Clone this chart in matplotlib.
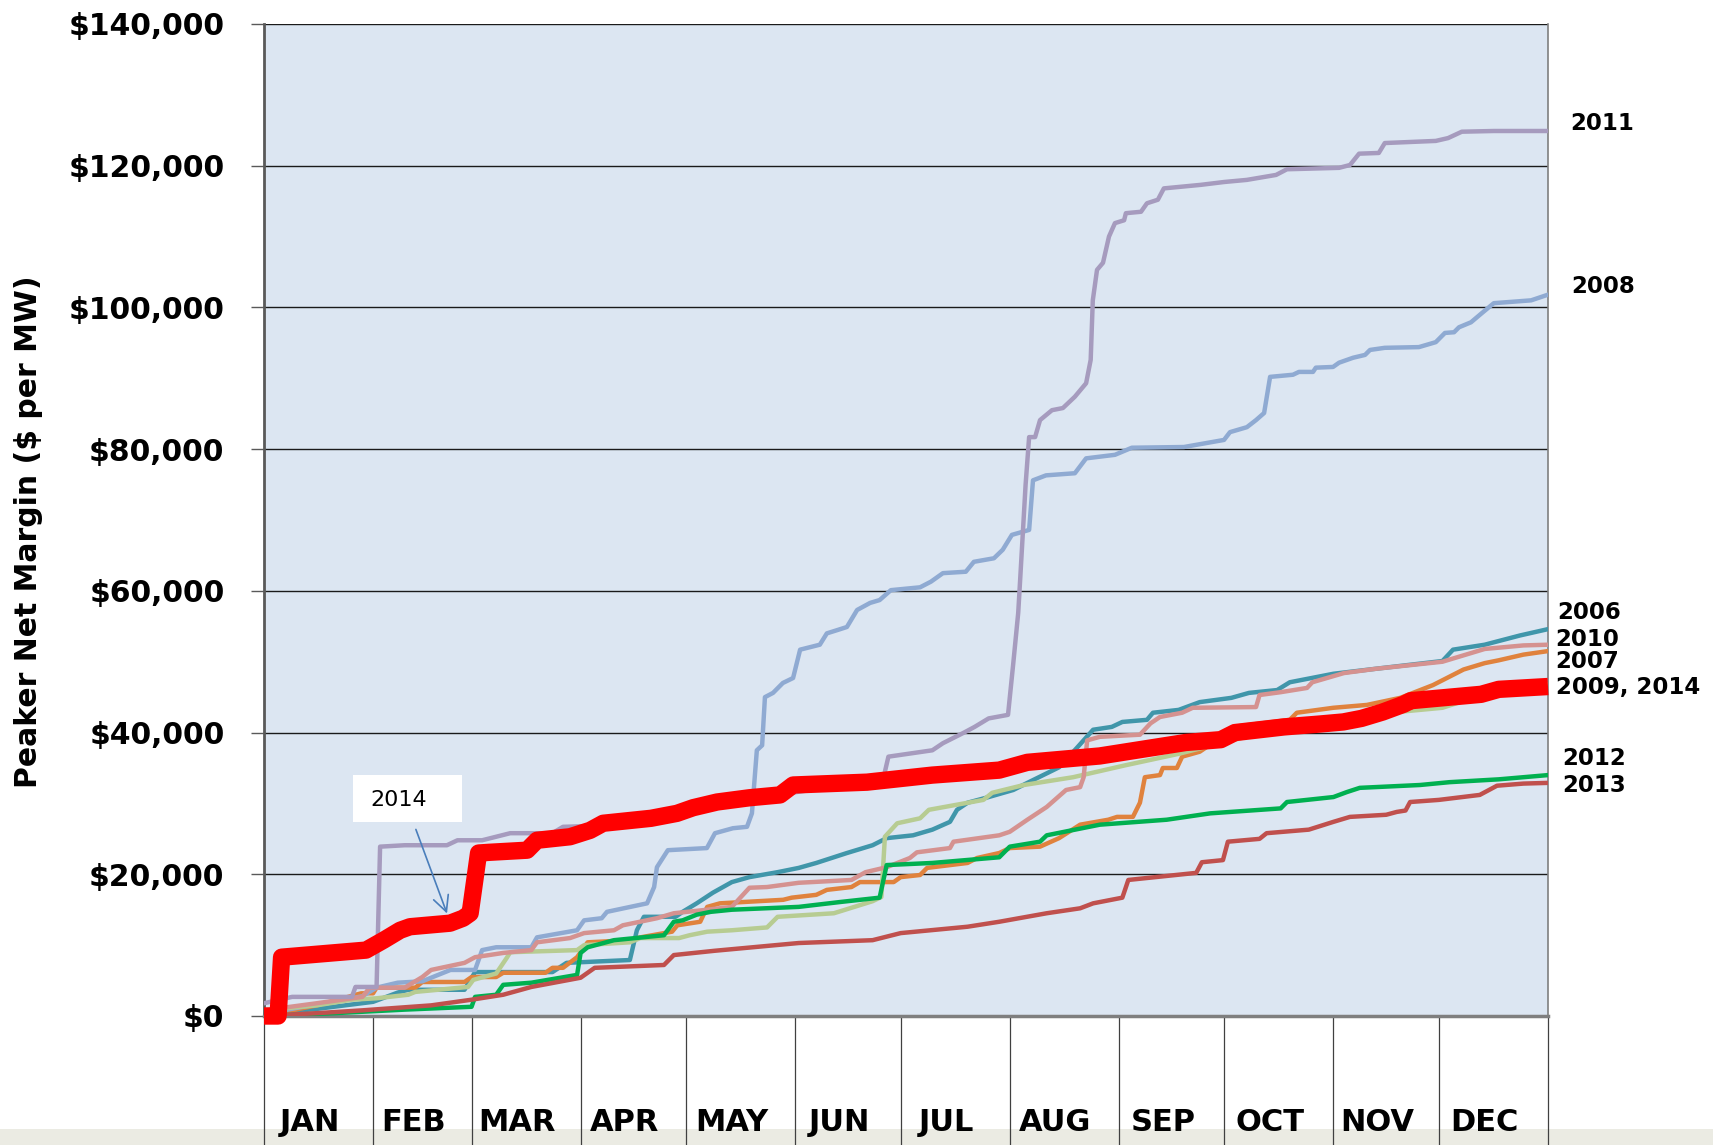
import matplotlib
matplotlib.use("Agg")
import matplotlib.pyplot as plt
from matplotlib.patches import Rectangle
from matplotlib.ticker import FuncFormatter
import matplotlib.transforms as mtransforms

# cumulative peaker net margin ($/MW) by day of year
d2006 = [0, 15, 31, 38, 41, 57, 60, 82, 86, 104, 106, 108, 117, 119, 123, 127.6, 133, 138, 146, 152,
         157, 165.7, 173, 177, 184.5, 190, 195, 197, 200, 206, 213, 217, 226, 231, 235.7, 241, 244, 251, 252.7, 260,
         266, 275, 280, 288, 291.6, 304, 316, 335, 338, 347, 357, 365]
v2006 = [300, 1000, 2000, 3300, 3700, 3700, 6200, 6200, 7500, 7900, 12100, 14000, 14000, 14700, 15900, 17400, 18900, 19600, 20300, 20900,
         21600, 23000, 24100, 25100, 25500, 26300, 27400, 29100, 30100, 30900, 31900, 32900, 35100, 37800, 40400, 40800, 41500, 41800, 42800, 43200,
         44300, 44900, 45600, 46000, 47100, 48300, 49000, 50100, 51700, 52400, 53700, 54600]

d2007 = [0, 15, 27.6, 31, 32, 43, 45, 57, 59, 66, 68, 80, 82, 85, 89, 92, 104, 107, 116, 117.5,
         124, 126, 129.6, 147.6, 150, 157, 160, 167, 169.4, 179, 181, 186.5, 188.5, 200, 202.7, 209, 212, 220.6, 226, 232,
         240, 242.5, 247, 249, 250.4, 254.7, 255.5, 259.5, 261, 266, 273.7, 275.5, 291.6, 293.6, 304, 313.5, 323, 332.3, 341, 347,
         351, 358, 365]
v2007 = [0, 1500, 3200, 3200, 4000, 4000, 4800, 4800, 5500, 5500, 6100, 6100, 6800, 6800, 8300, 10400, 10700, 11100, 11900, 12800,
         13300, 15400, 15900, 16400, 16700, 17100, 17800, 18200, 18900, 18900, 19600, 19900, 20900, 21600, 22300, 23000, 23700, 23900, 25100, 27000,
         27700, 28100, 28100, 30100, 33700, 34000, 35000, 35000, 36600, 37300, 39900, 40800, 41800, 42800, 43500, 43900, 44900, 46700, 48900, 49800,
         50200, 51000, 51500]

d2008 = [0, 10, 20, 28, 32, 38, 45, 53, 60, 62, 66, 76, 77.6, 89, 91, 96, 97.5, 108.9, 110.9, 111.7,
         114.8, 125.9, 128.2, 133.3, 137.3, 138.7, 140.1, 141.6, 142.4, 144.7, 147.5, 150.4, 152.4, 158, 160, 163.2, 165.7, 168.6, 172.3, 175,
         178.2, 186.5, 189.6, 193, 199.5, 201.8, 207.5, 210, 212.6, 217.5, 218.6, 222.3, 230.5, 233.7, 241.9, 246.7, 261.5, 272.9, 274.6, 279.4,
         282, 284.3, 286, 292.5, 294.2, 298.2, 299, 303.9, 305.6, 309.6, 313, 314.4, 318.6, 328.3, 333.1, 335.7, 338.3, 339.7, 343.1, 346.2,
         349.6, 360.2, 365]
v2008 = [300, 1200, 2000, 2800, 4000, 4700, 4900, 6500, 6500, 9300, 9700, 9700, 11100, 12100, 13500, 13800, 14700, 15900, 18200, 21000,
         23400, 23700, 25800, 26500, 26700, 28600, 37500, 38200, 45000, 45600, 47000, 47700, 51700, 52400, 54000, 54500, 54900, 57300, 58300, 58700,
         60100, 60500, 61300, 62500, 62700, 64100, 64600, 65800, 67900, 68600, 75600, 76300, 76600, 78700, 79200, 80200, 80300, 81300, 82400, 83100,
         84100, 85100, 90200, 90500, 90900, 90900, 91500, 91600, 92200, 92900, 93300, 94000, 94300, 94400, 95100, 96400, 96500, 97200, 97900, 99200,
         100600, 101000, 101800]

d2009 = [0, 15, 25, 32, 41, 43, 58, 59.5, 66, 69, 70, 89, 91, 104, 107, 118, 121, 126, 133, 143,
         146, 162, 173, 175.5, 176.5, 180, 186.5, 189, 204.5, 207, 216, 230, 245, 260, 280, 300, 320, 335, 340, 350,
         365]
v2009 = [800, 1500, 2300, 2500, 3000, 3400, 4100, 5100, 6000, 8200, 9000, 9300, 10000, 10400, 11000, 11000, 11400, 11900, 12100, 12500,
         14000, 14500, 16200, 16800, 25300, 27200, 27900, 29100, 30500, 31500, 32600, 33700, 35400, 37000, 39500, 41000, 42800, 43500, 44300, 45200,
         46800]

d2010 = [0, 15, 28, 30, 40, 45, 47.5, 57, 60, 68, 76, 77.6, 87, 91, 99.5, 102, 111.7, 116.5, 126, 133,
         138, 143, 152, 167, 171, 177, 183.6, 185.6, 195, 196, 209, 212, 217, 222.5, 228, 232, 233, 234, 237.6, 249,
         252, 254.7, 261, 264, 282, 283, 289, 296.5, 298, 307, 316, 335, 347, 358, 365]
v2010 = [800, 1800, 2700, 4000, 4000, 5500, 6500, 7500, 8300, 8900, 9300, 10400, 11000, 11700, 12100, 12800, 13800, 14500, 15000, 15400,
         18100, 18200, 18800, 19200, 20300, 21000, 22300, 23100, 23700, 24600, 25500, 26000, 27700, 29500, 31900, 32300, 33700, 38900, 39400, 39700,
         41300, 42200, 42800, 43500, 43600, 45300, 45700, 46300, 47100, 48400, 49000, 50000, 51800, 52300, 52400]

d2011 = [0, 8, 25, 26, 32, 33, 40, 52, 55, 62, 70, 82, 85, 100, 110, 130, 150, 170, 176, 177.5,
         190, 193, 199, 202, 206, 211.5, 213, 214.4, 215, 216.5, 217.5, 219.2, 220.6, 224, 227.1, 230.5, 233.7, 235, 235.6, 236.8,
         238.5, 240.2, 241.9, 244.5, 245, 249.3, 251, 254.1, 255.8, 266.3, 272.9, 279.4, 287.7, 290.8, 305.6, 308.7, 311.3, 316.9, 318.6, 333.1,
         336.6, 340.5, 349.6, 365]
v2011 = [1800, 2700, 2700, 4100, 4100, 23900, 24100, 24100, 24800, 24800, 25800, 25800, 26700, 26900, 27500, 29500, 31500, 33000, 33400, 36600,
         37500, 38500, 40000, 40800, 42000, 42500, 49800, 56900, 62000, 75000, 81700, 81700, 84100, 85500, 85800, 87400, 89300, 92600, 101000, 105300,
         106300, 110000, 111900, 112300, 113300, 113500, 114700, 115200, 116800, 117300, 117700, 118000, 118700, 119500, 119700, 120100, 121700, 121800, 123200, 123500,
         123900, 124800, 124900, 124900]

d2012 = [0, 20, 40, 59, 60, 66, 68, 76, 89, 90, 92, 99.5, 113.7, 116.5, 119, 123, 127, 133, 152, 164,
         175, 177, 190, 209, 212, 220.6, 222.5, 237.6, 256.6, 269, 289, 290.8, 304, 307.8, 311.5, 328.6, 337, 351, 365]
v2012 = [0, 400, 900, 1300, 2700, 3000, 4400, 4700, 5800, 8900, 9700, 10700, 11400, 13300, 13500, 14300, 14700, 15000, 15400, 16100,
         16700, 21300, 21600, 22400, 23900, 24600, 25500, 27000, 27700, 28600, 29300, 30200, 30900, 31600, 32200, 32600, 33000, 33400, 34000]

d2013 = [0, 15, 28, 47.5, 59, 68, 76, 90, 94, 113.7, 116.5, 128, 152, 173, 181, 200, 209, 222.5, 232, 235.7,
         244, 245.7, 265, 266.6, 272.6, 274, 283, 285, 297, 304, 308.7, 319, 322, 324.5, 325.8, 334, 345.6, 350.5, 358, 365]
v2013 = [0, 400, 800, 1500, 2300, 3000, 4100, 5400, 6800, 7200, 8600, 9200, 10300, 10700, 11700, 12600, 13300, 14500, 15200, 15900,
         16700, 19200, 20200, 21700, 22000, 24600, 25000, 25800, 26300, 27400, 28100, 28400, 28800, 29000, 30200, 30500, 31200, 32500, 32800, 32900]

d2014 = [0, 4, 5, 29, 34, 38.7, 41.5, 52.9, 56.6, 58.6, 61, 64, 74.8, 77.6, 87, 92.7, 96.4, 110, 117.4, 122,
         128.8, 138, 146.7, 150.4, 171.4, 190, 209, 217, 237.6, 262, 272, 276, 290, 300, 306.8, 312, 318, 324, 326, 346,
         351, 365]
v2014 = [0, 0, 8300, 9300, 10700, 12100, 12600, 13100, 13800, 14500, 23000, 23100, 23400, 24800, 25300, 26200, 27200, 27900, 28600, 29400,
         30200, 30800, 31200, 32600, 33000, 34000, 34700, 35800, 36700, 38600, 39000, 40000, 40800, 41200, 41500, 42000, 42900, 44000, 44500, 45400,
         46100, 46500]

months = ['JAN', 'FEB', 'MAR', 'APR', 'MAY', 'JUN', 'JUL', 'AUG', 'SEP', 'OCT', 'NOV', 'DEC']
month_starts = [0, 31, 59, 90, 120, 151, 181, 212, 243, 273, 304, 334, 365]

series = [
    ('2006', d2006, v2006, '#4096AA'),
    ('2007', d2007, v2007, '#E0823D'),
    ('2008', d2008, v2008, '#8FAAD2'),
    ('2009', d2009, v2009, '#B7CC92'),
    ('2010', d2010, v2010, '#D59290'),
    ('2011', d2011, v2011, '#A69BBE'),
    ('2012', d2012, v2012, '#00B050'),
    ('2013', d2013, v2013, '#C0504D'),
]

# end-of-line labels: (text, x in axes fraction, y in $)
end_labels = [('2011', 1.017, 126000), ('2008', 1.018, 102900), ('2006', 1.007, 56900),
              ('2010', 1.006, 53200), ('2007', 1.006, 50000), ('2009, 2014', 1.006, 46400),
              ('2012', 1.011, 36400), ('2013', 1.011, 32600)]

plt.rcParams['font.family'] = 'DejaVu Sans'

fig = plt.figure(figsize=(17.13, 11.45), dpi=100)
fig.patch.set_facecolor('white')
ax = fig.add_axes([264 / 1713, 129 / 1145, 1284 / 1713, 992 / 1145])
ax.set_facecolor('#DCE6F2')

# grey strip along the bottom of the slide
fig.patches.append(Rectangle((0, 0), 1, 16 / 1145, transform=fig.transFigure,
                             facecolor='#EBEBE3', edgecolor='none', zorder=-5))

for name, d, v, c in series:
    ax.plot(d, v, color=c, lw=3.2, solid_joinstyle='round', zorder=3)
ax.plot(d2014, v2014, color='#FF0000', lw=12.5, solid_capstyle='butt',
        solid_joinstyle='round', zorder=4, clip_on=False)

ax.set_xlim(0, 365)
ax.set_ylim(0, 140000)
ax.set_yticks(range(0, 140001, 20000))
ax.yaxis.set_major_formatter(FuncFormatter(lambda y, p: '${:,.0f}'.format(y)))
ax.set_xticks([])
ax.tick_params(axis='y', direction='out', length=9.5, width=1, color='#595959', pad=19,
               labelsize=21.5)
for lab in ax.get_yticklabels():
    lab.set_fontweight('bold')

ax.yaxis.grid(True, color='#1a1a1a', lw=1.0)
ax.set_axisbelow(True)
ax.spines['top'].set_visible(False)
ax.spines['left'].set_color('#595959')
ax.spines['left'].set_linewidth(2)
ax.spines['bottom'].set_color('#7F7F7F')
ax.spines['bottom'].set_linewidth(2.5)
ax.spines['right'].set_color('#7F7F7F')
ax.spines['right'].set_linewidth(1.2)

# month separators below the axis and month names
trans = mtransforms.blended_transform_factory(ax.transData, ax.transAxes)
ax.vlines(month_starts, -0.135, 0, transform=trans, colors='#404040', lw=0.9, clip_on=False)
for i, m in enumerate(months):
    xc = (month_starts[i] + month_starts[i + 1]) / 2 - 2.5
    ax.text(xc, -0.107, m, transform=trans, ha='center', va='center',
            fontsize=22, fontweight='bold')

fig.text(29 / 1713, 1 - 532 / 1145, 'Peaker Net Margin ($ per MW)', rotation=90,
         ha='center', va='center', fontsize=21.5, fontweight='bold')

tr2 = mtransforms.blended_transform_factory(ax.transAxes, ax.transData)
for txt, xa, yv in end_labels:
    ax.text(xa, yv, txt, transform=tr2, ha='left', va='center', fontsize=16.5,
            fontweight='bold', clip_on=False)

# "2014" callout
ax.add_patch(Rectangle((25.3, 27400), 31.0, 6600, facecolor='white', edgecolor='none', zorder=6))
ax.text(38.4, 30500, '2014', ha='center', va='center', fontsize=16, zorder=7)
ax.annotate('', xy=(52.3, 14100), xytext=(42.9, 26700),
            arrowprops=dict(arrowstyle='->', color='#4A7EBB', lw=1.2, mutation_scale=28),
            zorder=7)

fig.savefig('out.png', dpi=100)
